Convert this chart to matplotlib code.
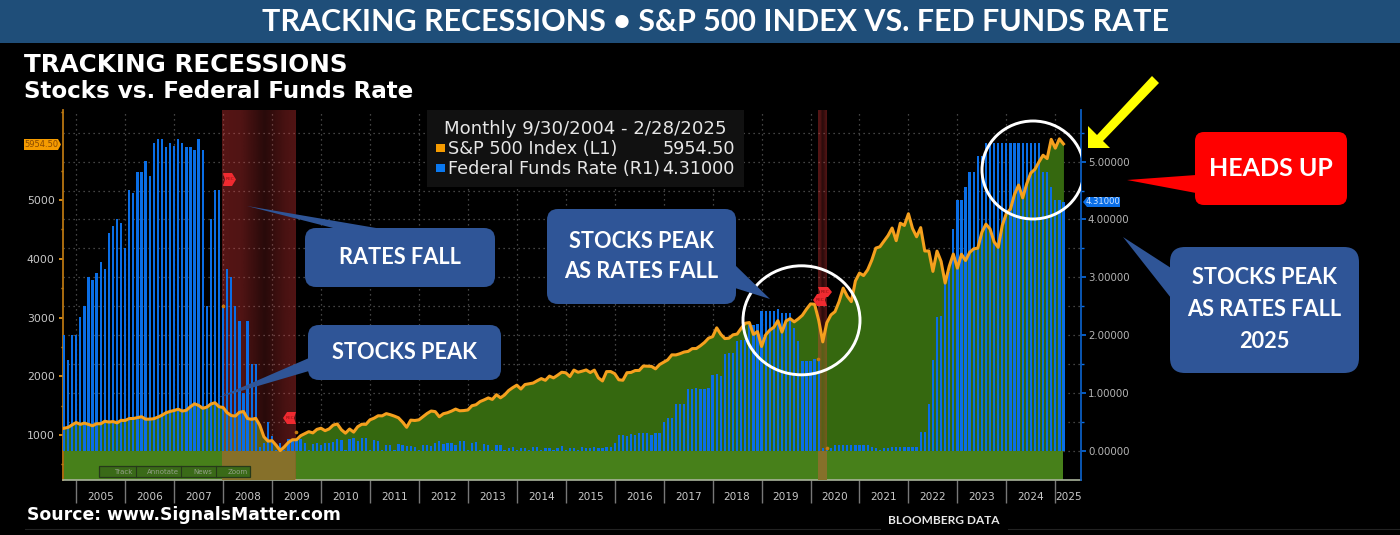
import numpy as np
import matplotlib
matplotlib.use("Agg")
import matplotlib.pyplot as plt
from matplotlib.patches import Rectangle, Polygon, FancyBboxPatch, Ellipse
from matplotlib.colors import to_rgb

# ---------- data, month ends 9/2004 .. 2/2025 ----------
sp500 = [1115,1130,1173,1212,
 1181,1203,1180,1157,1192,1191,1234,1220,1229,1207,1249,1248,
 1280,1281,1295,1311,1270,1270,1277,1304,1336,1378,1401,1418,
 1439,1407,1421,1482,1531,1503,1455,1474,1527,1549,1481,1468,
 1379,1331,1323,1386,1400,1280,1267,1283,1165,969,896,903,
 826,735,798,873,919,919,987,1021,1057,1036,1096,1115,
 1074,1104,1169,1187,1089,1031,1102,1049,1141,1183,1181,1258,
 1286,1327,1326,1364,1345,1321,1292,1219,1131,1253,1247,1258,
 1312,1366,1408,1398,1310,1362,1379,1407,1441,1412,1416,1426,
 1498,1515,1569,1598,1631,1606,1686,1633,1682,1757,1806,1848,
 1783,1859,1872,1884,1924,1960,1931,2003,1972,2018,2068,2059,
 1995,2105,2068,2086,2107,2063,2104,1972,1920,2079,2080,2044,
 1940,1932,2060,2065,2097,2099,2174,2171,2168,2126,2199,2239,
 2279,2364,2363,2384,2412,2423,2470,2472,2519,2575,2648,2674,
 2824,2714,2641,2648,2705,2718,2816,2902,2914,2712,2760,2507,
 2704,2784,2834,2946,2752,2942,2980,2926,2977,3038,3141,3231,
 3226,2954,2585,2912,3044,3100,3271,3500,3363,3270,3622,3756,
 3714,3811,3973,4181,4204,4298,4395,4523,4308,4605,4567,4766,
 4516,4374,4530,4132,4132,3785,4130,3955,3586,3872,4080,3840,
 4077,3970,4109,4169,4180,4450,4589,4508,4288,4194,4568,4770,
 4846,5096,5254,5036,5278,5460,5522,5648,5762,5705,6032,5882,
 6041,5954.5]

fed_funds = [2.00,1.57,2.00,2.00,2.32,2.51,3.00,2.95,3.07,3.26,3.14,3.76,
 3.89,4.01,3.94,3.51,4.51,4.45,4.83,4.83,5.01,4.76,5.32,5.39,
 5.39,5.26,5.32,5.27,5.39,5.32,5.26,5.26,5.20,5.39,5.20,2.51,
 4.01,4.51,4.51,2.51,3.14,3.00,2.51,2.25,0.99,2.25,1.50,1.50,
 0.07,0.13,0.50,0.25,0.01,0.13,0.01,0.20,0.18,0.18,0.20,0.14,
 0.01,0.12,0.14,0.10,0.13,0.13,0.15,0.20,0.18,0.01,0.21,0.22,
 0.16,0.22,0.22,0.02,0.18,0.17,0.01,0.10,0.10,0.01,0.12,0.10,
 0.08,0.08,0.06,0.01,0.10,0.10,0.08,0.14,0.17,0.12,0.14,0.14,
 0.09,0.17,0.17,0.02,0.14,0.15,0.02,0.11,0.09,0.01,0.09,0.09,
 0.01,0.05,0.06,0.01,0.05,0.05,0.01,0.06,0.06,0.01,0.05,0.05,
 0.01,0.04,0.08,0.01,0.05,0.05,0.01,0.06,0.05,0.05,0.06,0.05,
 0.05,0.06,0.06,0.14,0.27,0.27,0.26,0.29,0.28,0.30,0.30,0.30,
 0.28,0.30,0.30,0.50,0.565,0.565,0.81,0.81,0.81,1.06,1.07,1.08,
 1.06,1.06,1.08,1.31,1.32,1.30,1.67,1.69,1.69,1.90,1.91,1.91,
 2.17,2.18,2.19,2.41,2.41,2.41,2.42,2.45,2.39,2.38,2.38,2.12,
 1.90,1.55,1.56,1.56,1.58,1.58,0.05,0.02,0.05,0.09,0.09,0.09,
 0.09,0.09,0.09,0.09,0.09,0.09,0.06,0.05,0.02,0.04,0.05,0.06,
 0.06,0.07,0.07,0.07,0.07,0.07,0.33,0.33,0.81,1.57,2.31,2.33,
 2.88,3.10,3.83,4.34,4.34,4.57,4.83,4.83,5.09,5.09,5.33,5.33,
 5.33,5.33,5.33,5.33,5.33,5.33,5.33,5.33,5.33,5.33,5.33,5.33,
 4.83,4.83,4.57,4.33,4.33,4.31]

year_labels = [str(y) for y in range(2005, 2026)]
year_start_idx = [3 + 12*i for i in range(21)]      # month index of each year boundary
rec_start = [38.7, 184.8]
rec_end = [56.6, 187.0]

# ---------- style ----------
W, H = 1400, 535
BLUE = "#0a6ee6"
ORANGE = "#f5a01e"
NAVY = "#2f5597"
plt.rcParams["font.family"] = "DejaVu Sans"
fig = plt.figure(figsize=(14, 5.35), dpi=100, facecolor="black")

rect = [63/W, (H-480)/H, (1081-63)/W, 370/H]
ax = fig.add_axes(rect, facecolor="black")
ax2 = ax.twinx()
ax3 = ax.twinx()

x = np.arange(len(sp500))
xlim = (-0.245, 249.3)
left_lim = (234, 6532)
right_lim = (-0.507, 5.894)
zero_left = 733   # left-axis level of the right axis' zero

# green area
ax.fill_between(x, zero_left, sp500, where=np.array(sp500) >= zero_left, color="#35680f", lw=0, zorder=2, interpolate=True)
ax.fill_between(x, left_lim[0], zero_left, color="#47801a", lw=0, zorder=2)

# recession bands
for s, e, mid in zip(rec_start, rec_end, [0.58, 0.5]):
    t = np.linspace(0, 1, 64)
    alpha = np.interp(t, [0, 0.25, mid, 0.85, 1], [0.36, 0.34, 0.17, 0.30, 0.34])
    img = np.zeros((1, 64, 4))
    img[..., :3] = to_rgb("#f03c3c")
    img[0, :, 3] = alpha
    ax.imshow(img, extent=[s, e, left_lim[0], left_lim[1]], aspect="auto", zorder=3, interpolation="bilinear")
    ax.fill_between([s, e], left_lim[0], zero_left, color="#86702a", lw=0, zorder=3.1)

ax.set_xlim(xlim)
ax.set_ylim(left_lim)
ax.set_xticks(year_start_idx)
ax.set_xticklabels([])
ax.set_xticks([(a + b)/2 for a, b in zip(year_start_idx, year_start_idx[1:] + [xlim[1]])], year_labels, minor=True)
ax.tick_params(axis="x", which="major", length=16.5, width=1, color="#777777", direction="out")
ax.tick_params(axis="x", which="minor", length=0, pad=9, labelsize=7.6, labelcolor="#c8c8c8")
ax.set_yticks([1000, 2000, 3000, 4000, 5000])
ax.set_yticks(np.arange(500, 6501, 1000), minor=True)
ax.tick_params(axis="y", which="major", length=3, width=1.2, color=ORANGE, labelsize=7.8, labelcolor="#c8c8c8", pad=3)
ax.tick_params(axis="y", which="minor", length=1.5, width=1, color=ORANGE)
ax.xaxis.grid(True, which="major", color="#5a5a5a", ls=(0, (1, 3)), lw=0.9, zorder=1)
ax.set_axisbelow(True)
for k in ("top", "right"):
    ax.spines[k].set_visible(False)
ax.spines["left"].set_color("#b87510")
ax.spines["left"].set_linewidth(1.3)
ax.spines["bottom"].set_color("#a9b39a")
ax.spines["bottom"].set_linewidth(1.2)

# federal funds bars
ax2.set_ylim(right_lim)
ax2.set_xlim(xlim)
ax2.bar(x, fed_funds, width=0.56, color=BLUE, lw=0, zorder=3)
ax2.set_yticks(np.arange(0, 6), [f"{v:.5f}" for v in range(6)])
ax2.set_yticks(np.arange(0.5, 6, 1), minor=True)
ax2.tick_params(axis="y", which="major", length=3.5, width=1.2, color=BLUE, labelsize=7.4, labelcolor="#b4b4b4", pad=1.5)
ax2.tick_params(axis="y", which="minor", length=2, width=1, color=BLUE)
for k in ("top", "left", "bottom"):
    ax2.spines[k].set_visible(False)
ax2.spines["right"].set_color("#0a5cc0")
ax2.spines["right"].set_linewidth(1.3)
ax2.patch.set_visible(False)
ax2.set_zorder(ax.get_zorder() + 1)

# horizontal dotted grid, tied to right axis, sits below the green
for lev in np.arange(0, 6, 0.5):
    ax.axhline(zero_left + lev*(left_lim[1]-left_lim[0])/(right_lim[1]-right_lim[0]),
               color="#5a5a5a", ls=(0, (1, 3)), lw=0.9, zorder=1)

# S&P 500 line
ax3.set_ylim(left_lim)
ax3.set_xlim(xlim)
ax3.plot(x, sp500, color=ORANGE, lw=2.2, solid_joinstyle="round", zorder=5)
ax3.axis("off")
ax3.set_zorder(ax2.get_zorder() + 1)

# ---------- pixel-space overlay ----------
ov = fig.add_axes([0, 0, 1, 1], facecolor="none")
ov.set_xlim(0, W)
ov.set_ylim(H, 0)
ov.axis("off")
ov.set_zorder(10)

ov.add_patch(Rectangle((0, 0), W, 43, color="#1f4e79", lw=0))
ov.text(715, 22, "TRACKING RECESSIONS • S&P 500 INDEX VS. FED FUNDS RATE", color="white",
        family="Lato", weight="bold", fontsize=21.9, ha="center", va="center")
ov.text(24, 65, "TRACKING RECESSIONS", color="white", weight="bold", fontsize=17.7, ha="left", va="center")
ov.text(24, 91, "Stocks vs. Federal Funds Rate", color="white", weight="bold", fontsize=16.6, ha="left", va="center")
ov.text(27, 515, "Source: www.SignalsMatter.com", color="white", weight="bold", fontsize=12.4, ha="left", va="center")
ov.text(944, 521, "BLOOMBERG DATA", color="#e8e8e8", family="Lato", weight="bold", fontsize=8.6, ha="center", va="center")
ov.plot([25, 880], [528.5, 528.5], color="#222222", lw=0.8)
ov.plot([1008, 1400], [528.5, 528.5], color="#222222", lw=0.8)

# legend
ov.add_patch(Rectangle((427, 110), 317, 77, color="#111111", lw=0))
lg = dict(color="#e6e6e6", va="center")
ov.text(444, 129, "Monthly 9/30/2004 - 2/28/2025", ha="left", fontsize=13.1, **lg)
ov.add_patch(Rectangle((436, 144), 9, 8, color="#f59b00", lw=0))
ov.text(448, 149, "S&P 500 Index (L1)", ha="left", fontsize=12.7, **lg)
ov.text(735, 149, "5954.50", ha="right", fontsize=12.7, **lg)
ov.add_patch(Rectangle((436, 164), 9, 8, color="#0a78f0", lw=0))
ov.text(448, 169, "Federal Funds Rate (R1)", ha="left", fontsize=12.7, **lg)
ov.text(735, 169, "4.31000", ha="right", fontsize=12.7, **lg)

# value tags
ov.add_patch(Polygon([(24, 139), (58, 139), (61, 144.5), (58, 150), (24, 150)], color="#f59b00", lw=0))
ov.text(41, 144.8, "5954.50", color="#8a4a00", fontsize=6.0, ha="center", va="center")
ov.add_patch(Polygon([(1083, 202), (1087, 197), (1120, 197), (1120, 207), (1087, 207)], color=BLUE, lw=0))
ov.text(1103.5, 202, "4.31000", color="#cfe4ff", fontsize=6.1, ha="center", va="center")

# toolbar
ov.add_patch(Rectangle((99, 466), 151, 11, facecolor="#3a6a18", edgecolor="#26391a", lw=0.9))
for tx, lab in zip([123, 163, 203, 238], ["Track", "Annotate", "News", "Zoom"]):
    ov.text(tx, 471.5, lab, color="#93a088", fontsize=5.0, ha="center", va="center")
for sx in [136, 181, 216]:
    ov.plot([sx, sx], [466, 477], color="#26391a", lw=0.8)

# REC flags
def flag(x0, x1, y0, y1, right=True):
    ym = (y0 + y1)/2
    if right:
        pts = [(x0, y0), (x1-4, y0), (x1, ym), (x1-4, y1), (x0, y1), (x0+2, ym)]
    else:
        pts = [(x1, y0), (x0+4, y0), (x0, ym), (x0+4, y1), (x1, y1), (x1-2, ym)]
    ov.add_patch(Polygon(pts, color="#f02a30", lw=0))
    ov.text((x0+x1)/2, ym, "REC", color="#8a1010", fontsize=3.2, ha="center", va="center")
flag(223, 236, 173, 186)
flag(283, 296, 412, 424, right=False)
flag(818, 832, 287, 297)
flag(813, 827, 294, 306, right=False)

ov.scatter([222.7, 295.7, 818, 826.7], [305.7, 432, 359, 448], s=7, color="#c77a10", lw=0)

# ellipses
ov.add_patch(Ellipse((801.5, 320.3), 117, 109, fill=False, ec="white", lw=2.1))
clip = Rectangle((0, 0), 1081, H, transform=ov.transData)
e2 = Ellipse((1033, 170), 102, 98, fill=False, ec="white", lw=2.1)
ov.add_patch(e2)
e2.set_clip_path(clip)

# yellow arrow
ov.add_patch(Polygon([(1088, 148), (1110, 148), (1103, 141), (1159, 83), (1152, 76), (1097, 135), (1088, 126)],
                     color="#ffff00", lw=0))

# callouts
def callout(x0, y0, x1, y1, tail, lines, color=NAVY, fs=15.7, r=11, ls=32):
    ov.add_patch(FancyBboxPatch((x0+r, y0+r), x1-x0-2*r, y1-y0-2*r,
                                boxstyle=f"round,pad={r},rounding_size={r}", fc=color, ec="none", mutation_aspect=1))
    ov.add_patch(Polygon(tail, fc=color, ec="none"))
    n = len(lines)
    cy = (y0 + y1)/2
    for i, t in enumerate(lines):
        ov.text((x0+x1)/2, cy + (i - (n-1)/2)*ls, t, color="white", family="Lato", weight="bold",
                fontsize=fs, ha="center", va="center")

callout(305, 228, 495, 287, [(337, 229), (247, 206), (382, 229)], ["RATES FALL"])
callout(308, 325, 501, 380, [(309, 358), (217, 398), (309, 371)], ["STOCKS PEAK"])
callout(547, 209, 736, 304, [(735, 265), (770, 299), (735, 288)], ["STOCKS PEAK", "AS RATES FALL"], ls=31)
callout(1195, 132, 1347, 205, [(1196, 175), (1127, 180), (1196, 193)], ["HEADS UP"], color="#ff0000", fs=18, r=9)
callout(1170, 247, 1359, 373, [(1171, 268), (1123, 237), (1171, 298)], ["STOCKS PEAK", "AS RATES FALL", "2025"], r=15)

fig.savefig("out.png", dpi=100, facecolor="black")
